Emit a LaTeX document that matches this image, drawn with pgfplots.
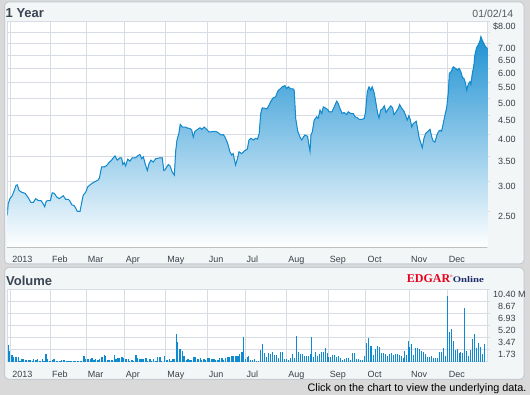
\documentclass[border=0pt]{standalone}
\usepackage{fontspec}
\setmainfont{Liberation Sans}
\newfontfamily\seriffont{Liberation Serif}
\usepackage{pgfplots}
\usepackage{pgfplotstable}
\usepgfplotslibrary{fillbetween}
\pgfplotsset{compat=1.18}
\definecolor{bg}{HTML}{D9D9D9}
\definecolor{panel}{HTML}{F2F6F6}
\definecolor{panelborder}{HTML}{C5CBD3}
\definecolor{gridc}{HTML}{D8DDE5}
\definecolor{lineblue}{HTML}{118ACE}
\definecolor{fillblue}{HTML}{1F92D3}
\definecolor{volblue}{HTML}{0E8AD0}
\definecolor{labc}{HTML}{3A3F48}
\definecolor{titlec}{HTML}{3B4452}
\definecolor{edgarred}{HTML}{E8001C}
\definecolor{edgarblue}{HTML}{1C2C6C}

\pgfplotstableread{
x y
-1.8 2.44
-1.3 2.62
-0.4 2.70
0.8 2.75
1.9 2.84
2.8 2.93
3.5 2.94
4.4 2.84
5.8 2.81
7.6 2.79
9.0 2.73
10.7 2.64
12.0 2.64
13.2 2.70
14.6 2.67
16.0 2.67
16.9 2.63
18.0 2.57
18.8 2.66
19.9 2.67
21.0 2.67
22.0 2.80
23.1 2.79
24.3 2.73
25.6 2.70
27.0 2.73
27.8 2.75
29.1 2.69
30.5 2.69
31.4 2.66
32.3 2.60
33.5 2.59
34.4 2.55
35.2 2.50
36.7 2.50
37.6 2.64
38.4 2.76
39.7 2.81
40.7 2.90
42.0 2.94
43.2 2.97
44.6 3.00
46.0 3.02
46.9 3.06
48.1 3.28
49.5 3.28
50.8 3.31
52.0 3.37
53.4 3.42
54.3 3.47
55.2 3.51
56.4 3.42
57.8 3.47
58.7 3.47
59.3 3.33
60.1 3.37
60.8 3.30
61.9 3.44
63.1 3.40
64.3 3.47
66.1 3.47
67.5 3.52
68.4 3.54
69.3 3.45
70.2 3.49
71.1 3.35
72.3 3.21
73.2 3.35
74.2 3.42
75.4 3.38
76.7 3.45
79.0 3.47
80.2 3.47
81.0 3.21
81.6 3.22
83.4 3.33
84.3 3.30
85.5 3.18
86.6 3.12
87.3 3.61
88.0 3.87
89.0 4.03
89.7 4.26
90.8 4.19
92.8 4.19
93.1 4.17
94.9 4.15
95.8 4.11
96.6 3.94
97.5 4.08
98.9 4.13
100.2 4.17
101.1 4.13
102.4 4.19
103.7 4.13
104.9 4.07
106.3 4.07
107.7 4.08
109.0 4.07
110.2 4.03
111.3 3.99
112.5 4.00
113.4 3.94
114.8 3.79
116.0 3.60
116.9 3.53
117.7 3.56
119.0 3.32
120.1 3.47
120.8 3.60
122.2 3.56
124.0 3.63
125.2 3.66
126.1 3.87
127.1 3.91
128.4 3.87
129.6 3.91
130.6 3.89
131.5 4.03
132.3 4.55
133.1 4.71
134.6 4.70
135.5 4.68
136.7 4.79
137.7 4.91
138.9 5.01
140.2 5.04
141.3 5.22
142.5 5.29
143.7 5.36
145.1 5.40
146.0 5.30
146.9 5.36
148.3 5.29
149.5 5.29
150.0 5.25
150.8 4.42
151.9 4.08
153.1 3.94
154.0 3.87
154.9 3.94
155.7 3.99
157.1 3.96
157.8 3.75
158.4 3.61
158.9 3.99
159.6 4.07
160.6 4.37
161.9 4.46
162.7 4.42
163.7 4.65
164.6 4.55
165.4 4.74
166.8 4.70
168.0 4.65
168.4 4.60
170.0 4.60
171.2 4.74
172.5 4.91
173.3 4.84
174.2 4.70
175.4 4.55
176.4 4.58
177.8 4.52
178.6 4.60
180.0 4.55
181.3 4.55
182.2 4.46
183.6 4.43
184.4 4.39
186.0 4.39
187.1 4.42
187.8 4.60
188.7 5.20
189.6 5.36
190.5 5.25
191.3 5.36
192.4 5.15
193.3 4.84
194.2 4.55
194.9 4.43
195.8 4.65
196.7 4.68
197.7 4.77
198.6 4.58
199.8 4.68
201.1 4.77
202.1 4.71
202.8 4.52
203.7 4.58
205.1 4.70
205.8 4.81
206.9 4.70
208.1 4.62
209.0 4.49
209.8 4.37
210.7 4.49
211.4 4.39
212.2 4.19
213.0 4.28
213.9 4.31
214.6 4.34
215.3 4.15
216.2 3.91
217.1 3.79
217.8 3.69
218.7 3.91
219.6 4.03
220.6 4.07
221.9 4.13
222.8 3.94
223.6 3.84
224.5 3.82
225.4 3.97
226.3 4.07
227.2 4.11
228.0 4.08
228.9 4.28
229.8 4.51
230.7 4.71
231.6 5.20
232.1 5.82
233.0 5.88
234.2 6.06
235.4 6.00
236.5 5.94
237.3 6.00
238.2 5.88
239.1 5.67
239.8 5.65
240.7 5.47
241.3 5.25
242.1 5.44
243.0 5.53
243.5 5.44
244.2 5.78
245.1 6.12
245.6 6.51
246.5 6.81
247.4 6.93
248.3 7.10
248.8 7.29
249.5 7.14
250.3 7.00
251.2 6.86
252.2 6.79
}\price

\pgfplotstableread{
x v
-1.4 2.41
-0.4 1.54
0.7 0.96
1.7 0.67
2.8 0.67
3.9 0.67
4.9 0.19
6.0 0.48
7.0 0.39
8.1 0.24
9.2 0.24
10.2 0.24
11.3 0.10
12.3 0.39
13.4 0.24
14.4 0.39
15.5 0.10
16.6 0.39
17.6 0.19
18.7 1.11
19.7 0.48
20.8 0.10
21.9 0.24
22.9 0.39
24.0 0.14
25.0 0.10
26.1 0.10
27.1 0.24
28.2 0.24
29.3 0.10
30.3 0.14
31.4 0.19
32.4 0.10
33.5 0.19
34.5 0.19
35.6 0.19
36.7 0.19
37.7 0.10
38.8 0.82
39.8 0.48
40.9 0.43
42.0 0.48
43.0 0.58
44.1 0.24
45.1 0.39
46.2 0.29
47.2 0.48
48.3 0.72
49.4 0.96
50.4 0.82
51.5 0.34
52.5 0.24
53.6 0.29
54.7 0.96
55.7 0.39
56.8 0.53
57.8 0.53
58.9 0.67
59.9 0.58
61.0 0.39
62.1 0.39
63.1 0.14
64.2 0.29
65.2 0.19
66.3 0.96
67.3 0.63
68.4 0.39
69.5 0.39
70.5 0.39
71.6 0.63
72.6 0.19
73.7 0.39
74.7 0.19
75.8 0.48
76.9 0.10
77.9 0.67
79.0 0.67
80.0 0.19
81.6 0.82
82.7 0.24
83.8 0.39
84.8 0.10
85.9 0.39
86.6 0.39
87.5 4.00
88.5 2.79
89.6 1.83
90.7 1.54
91.7 0.82
92.8 0.24
93.8 0.39
94.9 0.24
95.9 0.24
97.0 0.67
98.0 0.67
99.1 0.39
100.2 0.53
101.2 0.24
102.3 0.39
103.3 0.24
104.4 0.53
105.4 0.53
106.5 0.39
107.6 0.39
108.6 0.24
109.7 0.24
110.7 0.53
111.8 0.53
112.8 0.24
113.9 0.53
115.0 0.67
116.0 0.67
117.1 0.82
118.1 0.82
119.2 0.82
120.3 0.82
121.3 1.11
122.4 1.40
123.1 3.56
124.1 0.39
125.2 0.67
125.9 0.82
126.8 0.24
127.8 0.24
128.9 0.39
129.9 0.10
131.0 0.10
132.1 1.69
133.1 2.55
134.2 1.25
135.2 0.67
136.3 1.25
137.4 1.11
138.4 1.40
139.5 0.96
140.5 0.96
141.6 0.53
142.6 1.40
143.7 1.40
144.8 0.39
145.8 0.39
146.9 0.24
147.9 0.53
149.0 1.11
150.0 0.53
151.1 3.71
152.2 1.40
153.2 1.11
154.3 1.11
155.3 0.82
156.4 0.82
157.5 0.82
158.5 1.11
159.3 3.56
160.1 0.67
161.2 1.40
162.2 0.82
163.3 1.11
164.4 1.40
165.4 1.40
166.5 1.97
167.5 1.25
168.3 0.67
169.1 0.67
170.1 0.96
171.2 0.96
172.3 0.67
173.3 0.82
174.4 0.53
175.5 0.24
176.5 0.39
177.6 0.53
178.6 0.53
179.7 0.24
181.0 1.25
181.8 1.25
182.9 0.39
184.0 0.39
185.0 0.24
186.1 0.24
187.1 0.82
188.2 2.70
189.2 3.42
190.3 2.26
191.0 2.26
192.0 0.96
193.1 1.83
194.2 2.26
195.2 2.12
196.3 1.25
197.3 1.25
198.4 1.11
199.5 0.82
200.5 1.11
201.6 1.25
202.6 0.96
203.7 1.11
204.7 1.11
205.8 0.96
206.9 0.82
207.9 0.53
208.6 1.54
209.6 0.96
210.3 2.99
211.1 2.12
212.2 2.55
213.2 0.96
214.3 1.97
215.3 1.97
216.4 1.83
217.4 1.54
218.5 1.40
219.6 1.11
220.6 0.67
221.7 0.67
222.7 0.82
223.8 0.53
224.9 0.53
225.9 0.53
227.0 1.40
228.0 1.40
229.1 1.97
230.1 0.82
231.0 9.49
232.1 4.29
233.1 4.72
234.2 2.99
235.2 1.69
236.3 1.83
237.4 1.25
238.1 1.40
239.1 1.25
240.0 7.75
241.1 1.54
242.1 0.82
243.2 1.69
244.2 3.27
245.3 4.00
246.4 1.97
247.4 2.70
248.5 2.12
249.5 1.11
250.6 2.55
}\vol

\pgfplotsset{
  chartbase/.style={
    anchor=south west, width=480pt, scale only axis,
    xmin=-1.8, xmax=252.2,
    axis background/.style={fill=white},
    axis line style={draw=gridc, line width=1pt},
    grid=major,
    grid style={draw=gridc, line width=1pt},
    xtick={0,21,40,60,82,104,124,146,168,188,211,231},
    xticklabels={2013,Feb,Mar,Apr,May,Jun,Jul,Aug,Sep,Oct,Nov,Dec},
    xtick style={draw=none},
    ytick pos=right, yticklabel pos=right,
    ytick style={draw=gridc, line width=0.8pt},
    tick align=outside, major tick length=2.5pt,
    tick label style={font=\fontsize{9}{9}\selectfont, text=labc, inner sep=0pt},
    xticklabel style={anchor=base west, xshift=1.5pt, yshift=-12.8pt},
    yticklabel style={anchor=base east, xshift=26pt, yshift=-7.9pt},
  }
}

\begin{document}
\begin{tikzpicture}
\useasboundingbox (0pt,0pt) rectangle (530pt,395pt);
\fill[bg] (0pt,0pt) rectangle (530pt,395pt);
\filldraw[fill=panel, draw=panelborder, line width=1pt, rounded corners=4pt] (4.5pt,131pt) rectangle (524pt,393pt);
\filldraw[fill=panel, draw=panelborder, line width=1pt, rounded corners=4pt] (4.5pt,15.7pt) rectangle (524pt,127.5pt);

\node[anchor=base west, inner sep=0pt, font=\bfseries\fontsize{13}{13}\selectfont, text=titlec] at (5.5pt,377.6pt) {1 Year};
\node[anchor=base west, inner sep=0pt, font=\bfseries\fontsize{13}{13}\selectfont, text=titlec] at (6pt,109.7pt) {Volume};
\node[anchor=base east, inner sep=0pt, font=\fontsize{10.5}{10.5}\selectfont, text=labc!85!white] at (513.5pt,377pt) {01/02/14};
\node[anchor=base west, inner sep=0pt] at (406.7pt,112.7pt) {{\seriffont\bfseries\fontsize{12}{12}\selectfont\color{edgarred}EDGAR}\raisebox{4.5pt}{\fontsize{3.5}{3.5}\selectfont\color{edgarred}\textregistered}\scalebox{1.25}[1]{\seriffont\bfseries\fontsize{8.6}{9}\selectfont\color{edgarblue}Online}};
\node[anchor=base east, inner sep=0pt, font=\fontsize{10.85}{11}\selectfont, text=black] at (526.7pt,3.5pt) {Click on the chart to view the underlying data.};

\begin{axis}[chartbase, at={(7.3pt,147.3pt)}, height=226.2pt,
  ymode=log, ymin=2, ymax=8,
  ytick={2.5,3,3.5,4,4.5,5,5.5,6,6.5,7,7.5,8},
  yticklabels={2.50,3.00,3.50,4.00,4.50,5.00,5.50,6.00,6.50,7.00,,\$8.00},
]
\addplot[draw=none, name path=price] table[x=x,y=y] {\price};
\path[name path=base] (axis cs:-1.8,2) -- (axis cs:252.2,2);
\pgfplotsextra{%
  \begin{scope}
  \clip[intersection segments={of=price and base, sequence={A* -- B*[reverse]}}];
  \fill[top color=fillblue, bottom color=white] (rel axis cs:0,0) rectangle (rel axis cs:1,0.933);
  \end{scope}
}
\addplot[lineblue, line width=1pt] table[x=x,y=y] {\price};
\end{axis}

\begin{axis}[chartbase, at={(7.3pt,33pt)}, height=72.7pt,
  ymin=0, ymax=10.4,
  ytick={1.7333,3.4667,5.2,6.9333,8.6667,10.4},
  yticklabels={1.73,3.47,5.20,6.93,8.67,10.40\rlap{ M}},
]
\addplot[ycomb, volblue, line width=1.1pt] table[x=x,y=v] {\vol};
\end{axis}
\end{tikzpicture}
\end{document}
